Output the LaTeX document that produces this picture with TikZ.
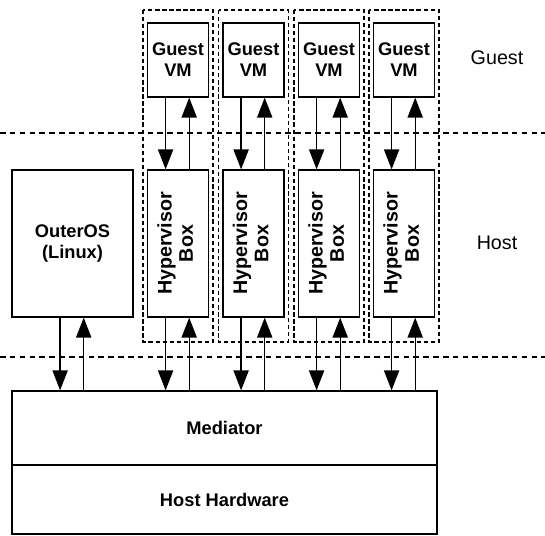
\documentclass[tikz,border=0pt]{standalone}
\usepackage{fontspec}
\setmainfont{Liberation Sans}
\usepackage{tikz}
\usetikzlibrary{arrows.meta, positioning}

\begin{document}
\begin{tikzpicture}[
        x=0.025cm, y=-0.025cm,
        box/.style={
            rectangle,
            draw=black,
            line width=0.9pt,
            fill=white,
            align=center,
            inner sep=2pt,
            font=\fontsize{13}{15}\selectfont\bfseries
        },
        guestbox/.style={
            box,
            minimum width=1.525cm,
            minimum height=1.85cm
        },
        hypbox/.style={
            box,
            minimum width=1.525cm,
            minimum height=3.675cm,
            font=\fontsize{14}{15}\selectfont\bfseries
        },
        layerbox/.style={
            box,
            minimum width=10.625cm
        },
        sepline/.style={
            line width=0.9pt,
            dash pattern=on 4pt off 3pt
        },
        vmgroup/.style={
            line width=0.8pt,
            dash pattern=on 3pt off 2pt
        },
        zone/.style={
            font=\fontsize{14}{16}\selectfont
        },
        flow/.style={
            line width=1pt,
            solid,
            arrows={-Triangle[length=5mm, width=3.8mm]}
        }
        ]
        \useasboundingbox (0,0) rectangle (545,536);

        % zone separators
        \draw [sepline] (0,133) -- (545,133);
        \draw [sepline] (0,357) -- (545,357);

        % one dashed group per virtual machine
        \foreach \cx in {178,253.5,329,404}
            \draw [vmgroup] (\cx-35,10) rectangle (\cx+35,342);

        \node (guest1) [guestbox] at (178,60) {Guest\\VM};
        \node (guest2) [guestbox] at (253.5,60) {Guest\\VM};
        \node (guest3) [guestbox] at (329,60) {Guest\\VM};
        \node (guest4) [guestbox] at (404,60) {Guest\\VM};

        \node (hyp1) [hypbox] at (178,243.5) {\rotatebox{90}{\begin{tabular}{@{}c@{}}Hypervisor\\Box\end{tabular}}};
        \node (hyp2) [hypbox] at (253.5,243.5) {\rotatebox{90}{\begin{tabular}{@{}c@{}}Hypervisor\\Box\end{tabular}}};
        \node (hyp3) [hypbox] at (329,243.5) {\rotatebox{90}{\begin{tabular}{@{}c@{}}Hypervisor\\Box\end{tabular}}};
        \node (hyp4) [hypbox] at (404,243.5) {\rotatebox{90}{\begin{tabular}{@{}c@{}}Hypervisor\\Box\end{tabular}}};

        \node (outer) [box, minimum width=3.025cm, minimum height=3.675cm] at (72.5,243.5) {OuterOS\\(Linux)};

        \node (med) [layerbox, minimum height=1.85cm] at (224.5,428) {Mediator};
        \node (hw) [layerbox, minimum height=1.725cm] at (224.5,499.5) {Host Hardware};

        \node (guestlbl) [zone] at (497,58) {Guest};
        \node (hostlbl) [zone] at (497,243) {Host};

        % guest <-> hypervisor
        \foreach \n in {1,2,3,4} {
            \draw [flow] ([xshift=-0.31cm]guest\n.south) -- ([xshift=-0.31cm]hyp\n.north);
            \draw [flow] ([xshift=0.28cm]hyp\n.north) -- ([xshift=0.28cm]guest\n.south);
        }

        % host side <-> mediator
        \foreach \n in {outer,hyp1,hyp2,hyp3,hyp4} {
            \draw [flow] ([xshift=-0.31cm]\n.south) -- ([xshift=-0.31cm]\n.south |- med.north);
            \draw [flow] ([xshift=0.28cm]\n.south |- med.north) -- ([xshift=0.28cm]\n.south);
        }

    \end{tikzpicture}
\end{document}
